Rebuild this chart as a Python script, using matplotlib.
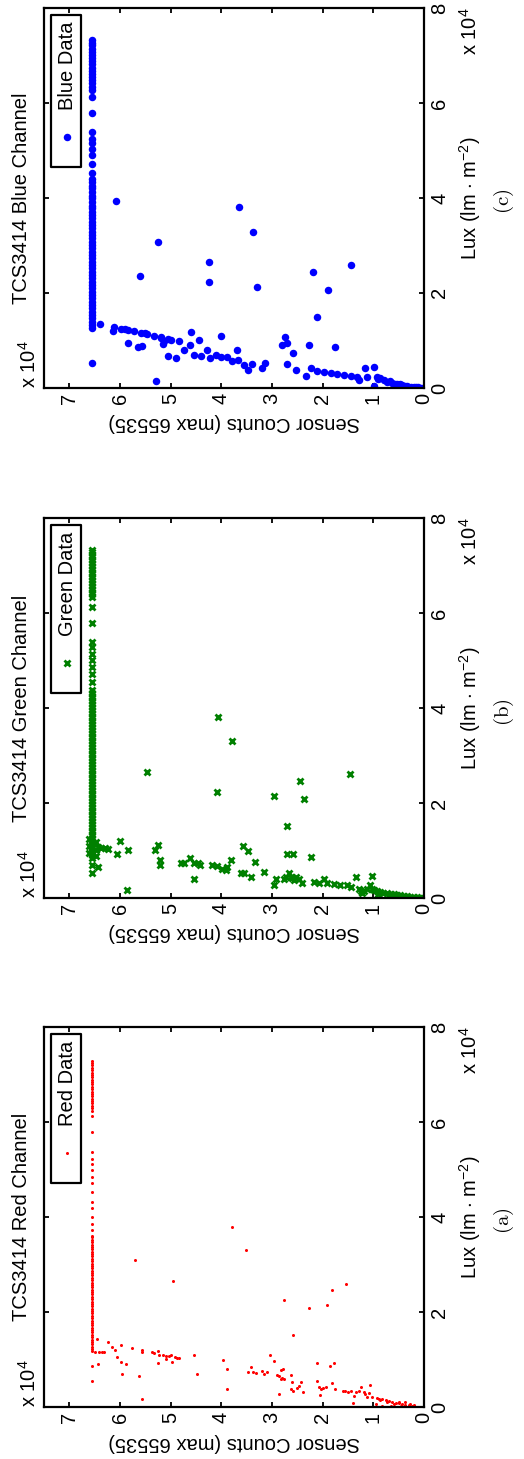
import matplotlib
matplotlib.use("Agg")
import matplotlib.pyplot as plt
from matplotlib.patches import Rectangle

plt.rcParams['font.family'] = ['Liberation Sans', 'DejaVu Sans']
plt.rcParams['mathtext.fontset'] = 'custom'
plt.rcParams['mathtext.rm'] = 'Liberation Sans'
plt.rcParams['mathtext.it'] = 'Liberation Sans:italic'

# all values in units of 10^4 (lux and sensor counts)
SAT = 6.55  # 65535 counts, saturated sensor

blue_sat_lux = [0.53, 1.26, 1.32, 1.39, 1.47, 1.53, 1.60, 1.68, 1.74, 1.81, 1.89, 1.95, 2.02,
                2.10, 2.16, 2.23, 2.31, 2.37, 2.44, 2.52, 2.58, 2.65, 2.73, 2.79, 2.86, 2.94,
                3.00, 3.07, 3.15, 3.21, 3.28, 3.36, 3.42, 3.49, 3.57, 3.63, 3.70, 3.78, 3.84,
                3.91, 3.99, 4.05, 4.12, 4.20, 4.26, 4.33, 4.39, 4.53, 4.72, 4.90, 5.02, 5.16,
                5.23, 5.38, 5.79, 6.12, 6.28, 6.34, 6.41, 6.48, 6.54, 6.61, 6.68, 6.74, 6.81,
                6.88, 6.94, 7.01, 7.08, 7.14, 7.21, 7.27, 7.33]
blue_counts = [6.07, 3.66, 3.38, 5.26, 4.24, 1.44, 5.60, 2.20, 4.24, 3.30, 1.89, 2.12,
               6.39, 6.11, 6.13, 5.98, 5.90, 5.85, 5.72, 5.59, 5.50, 5.46, 5.32, 5.20, 5.19,
               5.06, 5.00, 5.84, 5.65, 5.57, 5.16, 5.13, 5.05, 4.90, 5.28, 4.84, 4.59, 4.45,
               4.73, 4.62, 4.54, 4.41, 4.28, 4.23, 4.11, 4.01, 3.88, 3.78, 3.68, 3.55, 3.47,
               3.39, 4.00, 3.70, 3.19, 3.13, 2.80, 2.75, 2.70, 2.58, 2.71, 2.53, 2.32, 2.27,
               1.75, 2.24, 2.11, 1.98, 1.84, 1.71, 1.58, 1.45, 1.32, 1.29, 1.16, 0.99, 1.12,
               0.99, 0.93, 0.90, 0.86, 0.79, 0.73, 0.68, 0.63, 0.58, 0.53, 0.48, 0.43, 0.38,
               0.33, 0.26, 0.20, 0.15, 0.11, 0.06, 0.02]
blue_lux = [3.93, 3.80, 3.28, 3.07, 2.65, 2.58, 2.36, 2.44, 2.23, 2.13, 2.07, 1.49,
            1.35, 1.29, 1.20, 1.24, 1.25, 1.21, 1.19, 1.16, 1.15, 1.13, 1.10, 1.05, 1.07,
            1.03, 1.01, 0.94, 0.86, 0.89, 0.92, 0.98, 0.67, 0.64, 0.15, 0.99, 1.18, 1.01,
            0.79, 0.90, 0.69, 0.67, 0.80, 0.62, 0.69, 0.66, 0.65, 0.56, 0.59, 0.48, 0.38,
            0.51, 1.09, 0.80, 0.41, 0.53, 0.91, 1.08, 0.94, 0.73, 0.50, 0.38, 0.25, 0.91,
            0.86, 0.41, 0.36, 0.34, 0.31, 0.29, 0.27, 0.25, 0.22, 0.17, 0.41, 0.45, 0.22,
            0.05, 0.24, 0.18, 0.20, 0.17, 0.13, 0.14, 0.11, 0.09, 0.08, 0.09, 0.06, 0.05,
            0.04, 0.03, 0.02, 0.02, 0.01, 0.00, 0.00]

green_sat_lux = [0.52, 0.69, 0.84, 0.90, 0.96, 1.02, 1.08, 1.14, 1.20, 1.26, 1.32, 1.38, 1.44,
                 1.50, 1.56, 1.62, 1.68, 1.74, 1.80, 1.86, 1.92, 1.98, 2.04, 2.10, 2.16, 2.22,
                 2.28, 2.34, 2.40, 2.46, 2.52, 2.58, 2.64, 2.70, 2.76, 2.82, 2.88, 2.94, 3.00,
                 3.06, 3.12, 3.18, 3.24, 3.30, 3.36, 3.42, 3.48, 3.54, 3.60, 3.66, 3.72, 3.78,
                 3.84, 3.90, 3.96, 4.02, 4.08, 4.14, 4.20, 4.26, 4.32, 4.37, 4.55, 4.72, 4.86,
                 5.00, 5.14, 5.28, 5.39, 5.79, 6.12, 6.33, 6.39, 6.45, 6.51, 6.57, 6.63, 6.69,
                 6.75, 6.81, 6.87, 6.93, 6.99, 7.05, 7.11, 7.17, 7.23, 7.29, 7.33]
green_counts = [4.06, 3.78, 5.47, 4.09, 2.97, 2.44, 2.37, 1.47, 2.70, 5.86,
                6.47, 6.62, 6.47, 6.62, 6.47, 6.62,
                6.44, 6.44, 6.37, 6.30, 6.23, 6.01, 6.06, 5.85, 5.31, 5.25, 5.21, 5.21, 4.80,
                4.73, 4.62, 4.54, 4.46, 4.42, 4.54, 4.18, 4.08, 3.98, 3.91, 3.88, 3.81, 3.57,
                3.47, 3.62, 3.55, 3.41, 3.34, 3.16, 2.97, 2.93, 2.76, 2.72, 2.67, 2.63, 2.60,
                2.57, 2.52, 2.47, 2.40, 2.71, 2.58, 2.23, 2.17, 2.07, 1.98, 1.91, 1.78, 1.65,
                1.52, 1.45, 1.35, 1.02, 1.22, 1.29, 1.25, 1.18, 1.06, 1.02, 1.12, 0.99, 0.93,
                0.90, 0.86, 0.80, 0.73, 0.70, 0.66, 0.60, 0.53, 0.50, 0.47, 0.40, 0.33, 0.27,
                0.20, 0.13, 0.07, 0.02]
green_lux = [3.80, 3.30, 2.65, 2.24, 2.15, 2.46, 2.08, 2.60, 1.51, 0.17,
             0.88, 0.95, 1.02, 1.10, 1.18, 1.25,
             0.66, 1.07, 1.06, 1.05, 1.04, 1.20, 0.92, 1.02, 1.01, 1.12, 0.81, 0.69, 0.74,
             0.74, 0.84, 0.73, 0.74, 0.69, 0.40, 0.69, 0.67, 0.62, 0.59, 0.66, 0.81, 1.09,
             0.98, 0.52, 0.52, 0.44, 0.76, 0.55, 0.27, 0.41, 0.41, 0.45, 0.52, 0.45, 0.42,
             0.38, 0.44, 0.41, 0.31, 0.93, 0.93, 0.87, 0.34, 0.32, 0.41, 0.31, 0.29, 0.28,
             0.27, 0.24, 0.45, 0.47, 0.10, 0.18, 0.15, 0.14, 0.27, 0.20, 0.18, 0.17, 0.15,
             0.09, 0.13, 0.10, 0.11, 0.06, 0.09, 0.08, 0.07, 0.03, 0.06, 0.05, 0.04, 0.03,
             0.03, 0.02, 0.01, 0.00]

red_sat_lux = [0.54, 0.87, 1.17, 1.22, 1.27, 1.32, 1.37, 1.42, 1.47, 1.52, 1.57, 1.62, 1.67,
               1.72, 1.77, 1.82, 1.87, 1.92, 1.97, 2.02, 2.07, 2.12, 2.17, 2.22, 2.27, 2.32,
               2.37, 2.42, 2.47, 2.52, 2.57, 2.62, 2.67, 2.72, 2.77, 2.82, 2.87, 2.92, 2.97,
               3.02, 3.07, 3.12, 3.17, 3.22, 3.27, 3.32, 3.37, 3.42, 3.47, 3.52, 3.57, 3.61,
               3.72, 3.86, 4.00, 4.18, 4.32, 4.53, 4.72, 4.84, 4.98, 5.12, 5.22, 5.36, 5.78,
               6.13, 6.24, 6.29, 6.34, 6.39, 6.44, 6.49, 6.54, 6.59, 6.64, 6.69, 6.74, 6.79,
               6.84, 6.89, 6.94, 6.99, 7.04, 7.09, 7.14, 7.19, 7.24, 7.29]
red_counts = [3.78, 3.51, 5.71, 4.96, 1.53, 1.81, 2.76, 2.27, 1.91, 2.58,
              6.46, 6.49, 6.42, 6.36, 6.31, 6.44, 6.24, 6.15, 6.09, 6.05, 5.98, 5.98, 5.97,
              5.88, 5.77, 5.62, 5.57, 5.57, 5.57, 5.36, 5.32, 5.25, 5.23, 5.16, 5.10, 5.03,
              5.00, 5.25, 5.10, 4.98, 4.92, 4.87, 4.83, 4.53, 4.49, 3.97, 3.88, 3.88, 3.47,
              3.41, 3.37, 3.32, 3.20, 3.16, 3.09, 3.03, 2.96, 2.90, 2.86, 2.82, 2.80, 2.78,
              2.76, 2.83, 2.86, 2.63, 2.60, 2.63, 2.58, 2.50, 2.47, 2.42, 2.38, 2.11, 2.11,
              2.07, 2.04, 2.06, 1.99, 1.94, 1.85, 1.77, 1.81, 1.75, 1.60, 1.55, 1.50, 1.45,
              1.35, 1.29, 1.24, 1.39, 1.40, 1.19, 1.16, 1.12, 1.09, 1.06, 1.02, 0.95, 0.93,
              0.89, 0.86, 0.83, 0.83, 0.76, 0.73, 0.70, 0.66, 0.63, 0.60, 0.56, 0.50, 0.50,
              0.46, 0.43, 0.37, 0.37, 0.30, 0.28, 0.24, 0.20, 0.17, 0.11, 0.04]
red_lux = [3.80, 3.30, 3.09, 2.65, 2.60, 2.46, 2.25, 2.08, 2.15, 1.52,
           1.43, 1.16, 1.16, 1.16, 1.16, 0.90, 1.36, 1.27, 1.21, 1.06, 1.31, 0.94, 0.69,
           0.91, 1.24, 0.65, 1.20, 1.16, 0.17, 1.15, 1.13, 1.19, 1.09, 1.09, 1.08, 1.08,
           1.09, 0.92, 1.02, 0.95, 1.05, 1.04, 1.03, 1.10, 0.70, 1.00, 0.81, 0.39, 0.73,
           0.84, 0.73, 0.71, 0.76, 0.69, 0.73, 1.09, 0.96, 0.67, 0.66, 0.78, 0.62, 0.81,
           0.59, 0.60, 0.27, 0.67, 0.52, 0.39, 0.34, 0.41, 0.44, 0.52, 0.31, 0.92, 0.55,
           0.43, 0.39, 0.25, 0.41, 0.43, 0.87, 0.92, 0.51, 0.37, 0.34, 0.34, 0.32, 0.34,
           0.31, 0.34, 0.43, 0.23, 0.09, 0.31, 0.27, 0.22, 0.29, 0.46, 0.22, 0.06, 0.20,
           0.18, 0.14, 0.16, 0.03, 0.15, 0.10, 0.13, 0.03, 0.11, 0.06, 0.09, 0.08, 0.11,
           0.03, 0.06, 0.05, 0.10, 0.04, 0.07, 0.02, 0.04, 0.01, 0.00, 0.00]

count_ticks = [0, 1, 2, 3, 4, 5, 6, 7]
lux_ticks = [0, 2, 4, 6, 8]

panels = [
    # name, counts, lux, saturated lux, marker style, caption, axes bottom
    ('Blue', blue_counts, blue_lux, blue_sat_lux,
     dict(marker='o', ms=5.4, color='#0000ff', mew=0), '(c)', 0.7341),
    ('Green', green_counts, green_lux, green_sat_lux,
     dict(marker='x', ms=4.2, color='#008000', mew=2.0), '(b)', 0.3845),
    ('Red', red_counts, red_lux, red_sat_lux,
     dict(marker='o', ms=2.2, color='#ff0000', mew=0), '(a)', 0.0356),
]

FS = 14.5
fig = plt.figure(figsize=(5.24, 14.59), dpi=100)

for name, counts, lux, sat_lux, mk, caption, bottom in panels:
    ax = fig.add_axes([0.084, bottom, 0.7252, 0.2605])
    ax.plot(counts, lux, ls='none', **mk)
    ax.plot([SAT] * len(sat_lux), sat_lux, ls='none', **mk)

    ax.set_xlim(7.5, 0)
    ax.set_ylim(0, 8)
    ax.set_xticks(count_ticks)
    ax.set_xticklabels([str(t) for t in count_ticks])
    ax.set_yticks(lux_ticks)
    ax.set_yticklabels([str(t) for t in lux_ticks])
    ax.tick_params(axis='both', direction='in', length=3.5, width=1.3,
                   top=True, bottom=True, left=True, right=True,
                   labelleft=False, labelright=True, labelsize=14.5,
                   labelrotation=90)
    ax.tick_params(axis='x', pad=3.5)
    ax.tick_params(axis='y', pad=4.5)
    for lab in ax.get_yticklabels():
        lab.set_va('center')
    for sp in ax.spines.values():
        sp.set_linewidth(1.6)

    ax.text(-0.059, 0.5, 'TCS3414 %s Channel' % name, rotation=90, fontsize=FS,
            ha='center', va='center', transform=ax.transAxes)
    ax.text(0.5, -0.092, 'Sensor Counts (max 65535)', rotation=180, fontsize=FS,
            ha='center', va='center', transform=ax.transAxes)
    ax.text(1.122, 0.5, r'Lux (lm $\cdot$ m$^{-2}$)', rotation=90, fontsize=FS,
            ha='center', va='center', transform=ax.transAxes)
    ax.text(1.121, 0.938, r'x 10$^{4}$', rotation=90, fontsize=FS,
            ha='center', va='center', transform=ax.transAxes)
    ax.text(-0.039, 0.0, r'x 10$^{4}$', rotation=90, fontsize=FS,
            ha='center', va='bottom', transform=ax.transAxes)
    ax.text(1.21, 0.49, r'$\mathrm{%s}$' % caption, rotation=90, fontsize=15,
            ha='center', va='center', transform=ax.transAxes, math_fontfamily='cm')

    # legend drawn by hand so it can be rotated with the rest
    leg_txt = ax.text(0.063, 0.963, '%s Data' % name, rotation=90, fontsize=FS,
                      ha='center', va='top', transform=ax.transAxes, zorder=6)
    fig.canvas.draw()
    axh = ax.get_window_extent().height
    tb = ax.transAxes.inverted().transform(leg_txt.get_window_extent())
    t_bot = tb[0][1]
    mark_y = t_bot - 27 / axh
    box_bot = t_bot - 57 / axh
    ax.add_patch(Rectangle((0.018, box_bot), 0.097 - 0.018, 0.982 - box_bot,
                           transform=ax.transAxes, facecolor='white', edgecolor='black',
                           linewidth=1.6, zorder=5, joinstyle='round', clip_on=False))
    ax.plot([0.061], [mark_y], ls='none', transform=ax.transAxes, zorder=6,
            clip_on=False, **mk)

fig.savefig('out.png', dpi=100)
